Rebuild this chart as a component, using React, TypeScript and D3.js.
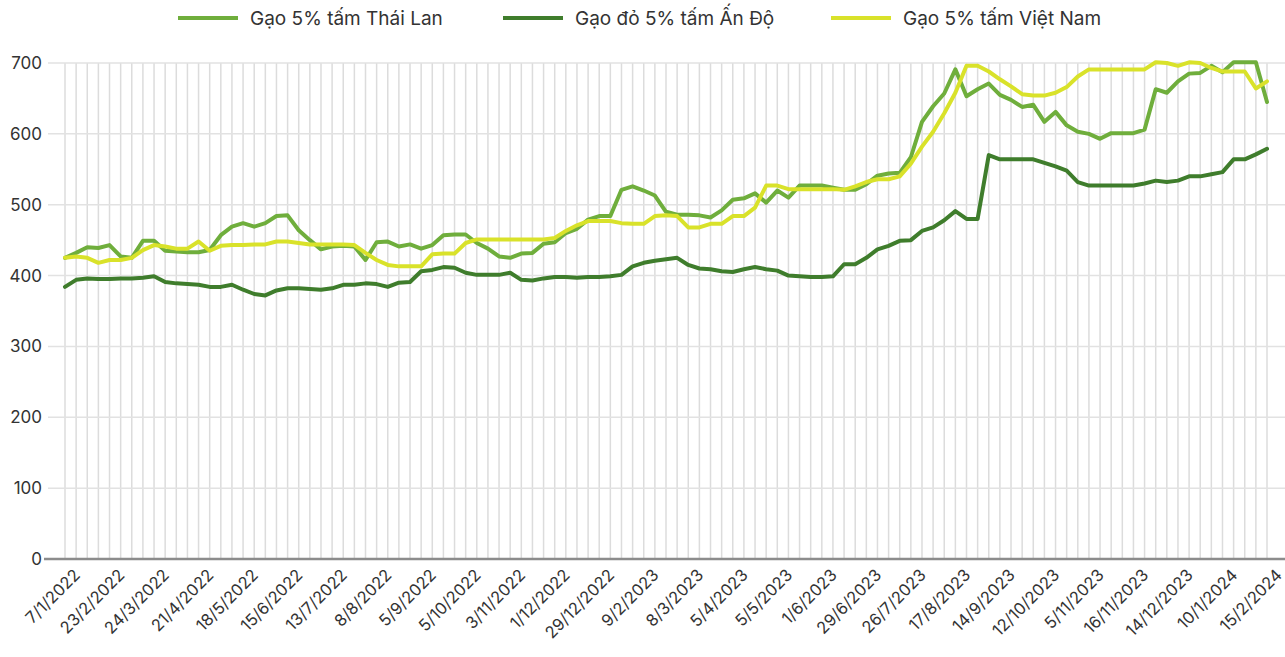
import React from "react";
import * as d3 from "d3";

// nhãn trục hoành, cứ 4 tuần một nhãn
const tickLabels = [
  "7/1/2022", "23/2/2022", "24/3/2022", "21/4/2022", "18/5/2022", "15/6/2022",
  "13/7/2022", "8/8/2022", "5/9/2022", "5/10/2022", "3/11/2022", "1/12/2022",
  "29/12/2022", "9/2/2023", "8/3/2023", "5/4/2023", "5/5/2023", "1/6/2023",
  "29/6/2023", "26/7/2023", "17/8/2023", "14/9/2023", "12/10/2023", "5/11/2023",
  "16/11/2023", "14/12/2023", "10/1/2024", "15/2/2024",
];

const thai = [
  425, 432, 440, 439, 443, 427, 425, 449, 449, 435, 434, 433, 433, 436, 457, 469,
  474, 469, 474, 484, 485, 464, 450, 437, 441, 442, 441, 422, 447, 448, 441, 444,
  438, 443, 457, 458, 458, 446, 438, 427, 425, 431, 432, 445, 447, 460, 466, 479,
  484, 484, 521, 526, 520, 513, 490, 486, 486, 485, 482, 492, 507, 509, 516, 503,
  520, 510, 527, 527, 527, 524, 521, 521, 529, 541, 544, 545, 567, 617, 639, 657,
  691, 653, 663, 671, 655, 648, 638, 641, 617, 631, 612, 603, 600, 593, 601, 601,
  601, 606, 663, 658, 674, 685, 686, 696, 687, 701, 701, 701, 645,
];

const india = [
  384, 394, 396, 395, 395, 396, 396, 397, 399, 391, 389, 388, 387, 384, 384, 387,
  380, 374, 372, 379, 382, 382, 381, 380, 382, 387, 387, 389, 388, 384, 390, 391,
  406, 408, 412, 411, 404, 401, 401, 401, 404, 394, 393, 396, 398, 398, 397, 398,
  398, 399, 401, 413, 418, 421, 423, 425, 415, 410, 409, 406, 405, 409, 412, 409,
  407, 400, 399, 398, 398, 399, 416, 416, 425, 437, 442, 449, 450, 463, 468, 478,
  491, 480, 480, 570, 564, 564, 564, 564, 559, 554, 548, 532, 527, 527, 527, 527,
  527, 530, 534, 532, 534, 540, 540, 543, 546, 564, 564, 571, 579,
];

const vietnam = [
  425, 427, 425, 418, 422, 422, 425, 436, 443, 441, 438, 438, 448, 435, 442, 443,
  443, 444, 444, 448, 448, 446, 444, 444, 444, 444, 443, 432, 422, 415, 413, 413,
  413, 430, 431, 431, 446, 451, 451, 451, 451, 451, 451, 451, 453, 463, 471, 477,
  477, 477, 474, 473, 473, 484, 485, 484, 468, 468, 473, 473, 484, 484, 496, 527,
  527, 522, 522, 522, 522, 522, 521, 526, 532, 536, 536, 540, 558, 582, 603, 629,
  658, 696, 696, 688, 677, 667, 656, 654, 654, 658, 666, 681, 691, 691, 691, 691,
  691, 691, 701, 700, 696, 701, 700, 693, 688, 688, 688, 664, 674,
];

const yTicks = [0, 100, 200, 300, 400, 500, 600, 700];

const series = [
  { name: "Gạo 5% tấm Thái Lan", values: thai, color: "#6fae3c" },
  { name: "Gạo đỏ 5% tấm Ấn Độ", values: india, color: "#3f7d2c" },
  { name: "Gạo 5% tấm Việt Nam", values: vietnam, color: "#d9e22a" },
];

const W = 1285;
const H = 657;
const font = "Inter, 'Noto Sans', sans-serif";

export default function App() {
  const n = thai.length;
  const x = d3.scalePoint<number>().domain(d3.range(n)).range([65, 1267]);
  const y = d3.scaleLinear().domain([0, 700]).range([559, 63]);

  const line = d3
    .line<number>()
    .x((d, i) => x(i) as number)
    .y(d => y(d));

  const legendX = [178, 503, 831];

  return (
    <svg
      width={W}
      height={H}
      style={{ position: "absolute", left: 0, top: 0, background: "#fff" }}
      fontFamily={font}
    >
      {/* lưới dọc */}
      {d3.range(n).map(i => (
        <line
          key={"v" + i}
          x1={x(i)}
          x2={x(i)}
          y1={y(700)}
          y2={y(0)}
          stroke="#dcdcdc"
          strokeWidth={1.5}
        />
      ))}
      {/* lưới ngang + nhãn trục tung */}
      {yTicks.map(t => (
        <g key={"y" + t}>
          <line
            x1={t === 0 ? 44 : 48}
            x2={W}
            y1={y(t)}
            y2={y(t)}
            stroke={t === 0 ? "#8c8c8c" : "#e2e2e2"}
            strokeWidth={t === 0 ? 2.5 : 1.5}
          />
          <text
            x={42}
            y={y(t)}
            dy="0.35em"
            textAnchor="end"
            fontSize={17}
            fill="#333"
          >
            {t}
          </text>
        </g>
      ))}
      {/* nhãn trục hoành */}
      {tickLabels.map((lb, k) => {
        const px = x(k * 4) as number;
        return (
          <text
            key={"x" + k}
            transform={`translate(${px + 12},${y(0) + 13}) rotate(-45)`}
            textAnchor="end"
            dy="0.35em"
            fontSize={16.5}
            fill="#333"
          >
            {lb}
          </text>
        );
      })}
      {/* đường giá */}
      {series.map(s => (
        <path
          key={s.name}
          d={line(s.values) || ""}
          fill="none"
          stroke={s.color}
          strokeWidth={4}
          strokeLinejoin="round"
          strokeLinecap="round"
        />
      ))}
      {/* chú thích */}
      {series.map((s, i) => (
        <g key={"lg" + i} transform={`translate(${legendX[i]},18)`}>
          <line x1={0} x2={60} y1={0} y2={0} stroke={s.color} strokeWidth={4} />
          <text x={72} y={0} dy="0.35em" fontSize={19} fill="#333">
            {s.name}
          </text>
        </g>
      ))}
    </svg>
  );
}
